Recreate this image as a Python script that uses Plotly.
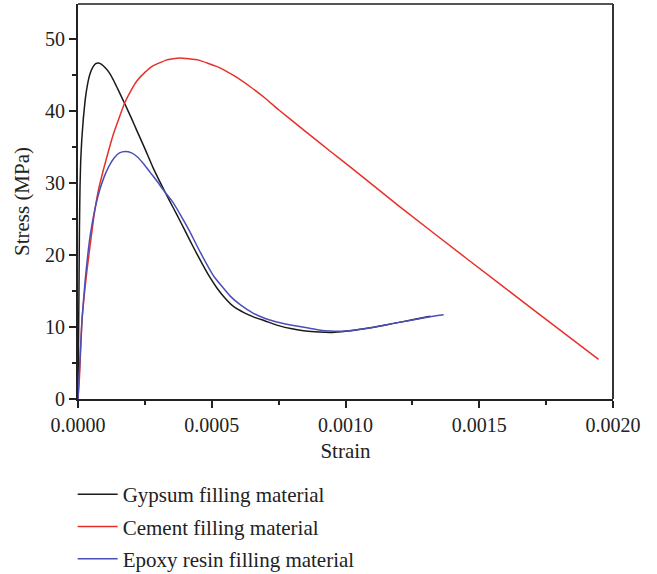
import plotly.graph_objects as go

# Gypsum filling material
gyp_x = [0, 0.000002, 0.000004, 0.0000055, 0.0000075, 0.00001, 0.000014, 0.00002, 0.000027, 0.000035,
         0.000045, 0.000055, 0.000066, 0.000077, 0.000088, 0.0001, 0.000114, 0.00013, 0.000146, 0.00016,
         0.000174, 0.0002, 0.00022, 0.00025, 0.00028, 0.00031, 0.00034, 0.00037, 0.0004, 0.00043,
         0.00046, 0.00049, 0.00052, 0.00055, 0.00058, 0.00062, 0.00066, 0.0007, 0.00075, 0.0008,
         0.00085, 0.0009, 0.00095, 0.001, 0.00105, 0.0011, 0.00115, 0.0012, 0.00125, 0.001317]
gyp_y = [0, 8, 17, 24, 29.5, 33, 36, 39, 41.6, 43.6,
         45.2, 46.1, 46.6, 46.7, 46.5, 46.1, 45.5, 44.5, 43.3, 42.2,
         41.1, 39.0, 37.3, 34.8, 32.2, 29.9, 27.7, 25.6, 23.4, 21.2,
         19.1, 17.1, 15.4, 14.0, 12.9, 12.0, 11.35, 10.85, 10.2, 9.75,
         9.45, 9.3, 9.25, 9.4, 9.65, 9.95, 10.3, 10.65, 11.0, 11.5]

# Cement filling material
cem_x = [0, 0.000005, 0.000015, 0.000034, 0.000058, 0.000075, 0.000096, 0.000115, 0.000133, 0.000155,
         0.000174, 0.0002, 0.00022, 0.00025, 0.00028, 0.00033, 0.00038, 0.00045, 0.00052, 0.00058,
         0.000644, 0.0007, 0.00075, 0.00085, 0.000944, 0.00105, 0.0012, 0.00145, 0.00172, 0.001946]
cem_y = [0, 2.7, 11, 18, 25, 28.8, 32.0, 34.6, 36.9, 39.2,
         41.1, 43.0, 44.2, 45.4, 46.3, 47.1, 47.4, 47.1, 46.2, 45.0,
         43.4, 41.8, 40.2, 37.2, 34.4, 31.3, 26.8, 19.6, 11.9, 5.5]

# Epoxy resin filling material
epo_x = [0, 0.0000086, 0.000015, 0.000027, 0.00004, 0.000052, 0.000065, 0.00008, 0.000096, 0.000115,
         0.000135, 0.000155, 0.000177, 0.0002, 0.00022, 0.000245, 0.00027, 0.000295, 0.00032, 0.00035,
         0.000383, 0.000416, 0.000457, 0.000507, 0.000569, 0.00061, 0.000656, 0.0007, 0.000756, 0.0008,
         0.000856, 0.0009, 0.000943, 0.001, 0.00105, 0.0011, 0.00115, 0.0012, 0.00126, 0.00131,
         0.001367]
epo_y = [0, 6.4, 11, 16.6, 21.2, 24.2, 26.7, 28.9, 30.7, 32.3,
         33.5, 34.2, 34.4, 34.2, 33.7, 32.7, 31.5, 30.3, 29.0, 27.6,
         25.6, 23.4, 20.4, 17.1, 14.3, 13.0, 11.9, 11.2, 10.6, 10.25,
         9.9, 9.6, 9.45, 9.45, 9.65, 9.95, 10.3, 10.65, 11.05, 11.4,
         11.7]

names = ["Gypsum filling material", "Cement filling material", "Epoxy resin filling material"]
colors = ["#1a1a1a", "#e8302a", "#4a4fb8"]

fig = go.Figure()
for i, (xs, ys) in enumerate([(gyp_x, gyp_y), (cem_x, cem_y), (epo_x, epo_y)]):
    fig.add_trace(go.Scatter(x=xs, y=ys, mode="lines", name=names[i],
                             line=dict(color=colors[i], width=1.5, shape="spline", smoothing=0.4),
                             legendgroup=str(i)))

font_family = "Liberation Serif"
fig.update_layout(
    width=657, height=574,
    margin=dict(l=78, r=44, t=4, b=175, autoexpand=False),
    plot_bgcolor="white", paper_bgcolor="white",
    font=dict(family=font_family, size=20, color="#222"),
    showlegend=True,
    legend=dict(x=-0.01, y=(574 - 474) / 574, xref="paper", yref="container",
                xanchor="left", yanchor="top", itemwidth=40,
                font=dict(family=font_family, size=21, color="#222"),
                tracegroupgap=2, bgcolor="rgba(0,0,0,0)"),
    xaxis=dict(range=[0, 0.002], dtick=0.0005, tick0=0, tickformat=".4f",
               showgrid=False, zeroline=False, showline=True, linecolor="#222", linewidth=2,
               ticks="outside", ticklen=7, tickwidth=2, tickcolor="#222",
               minor=dict(dtick=0.00025, ticks="outside", ticklen=4, tickwidth=1.5, tickcolor="#222"),
               title=dict(text="Strain", standoff=8, font=dict(size=21)),
               tickfont=dict(size=20)),
    yaxis=dict(range=[0, 54.9], dtick=10, tick0=0,
               showgrid=False, zeroline=False, showline=True, linecolor="#222", linewidth=2,
               ticks="outside", ticklen=7, tickwidth=2, tickcolor="#222",
               minor=dict(dtick=5, ticks="outside", ticklen=4, tickwidth=1.5, tickcolor="#222"),
               title=dict(text="Stress (MPa)", standoff=10, font=dict(size=21)),
               tickfont=dict(size=20)),
)
# top and right frame lines
fig.add_shape(type="line", xref="paper", yref="paper", x0=0, x1=1, y0=1, y1=1,
              line=dict(color="#555", width=2))
fig.add_shape(type="line", xref="paper", yref="paper", x0=1, x1=1, y0=0, y1=1,
              line=dict(color="#333", width=2))

fig.write_html("out.html")
